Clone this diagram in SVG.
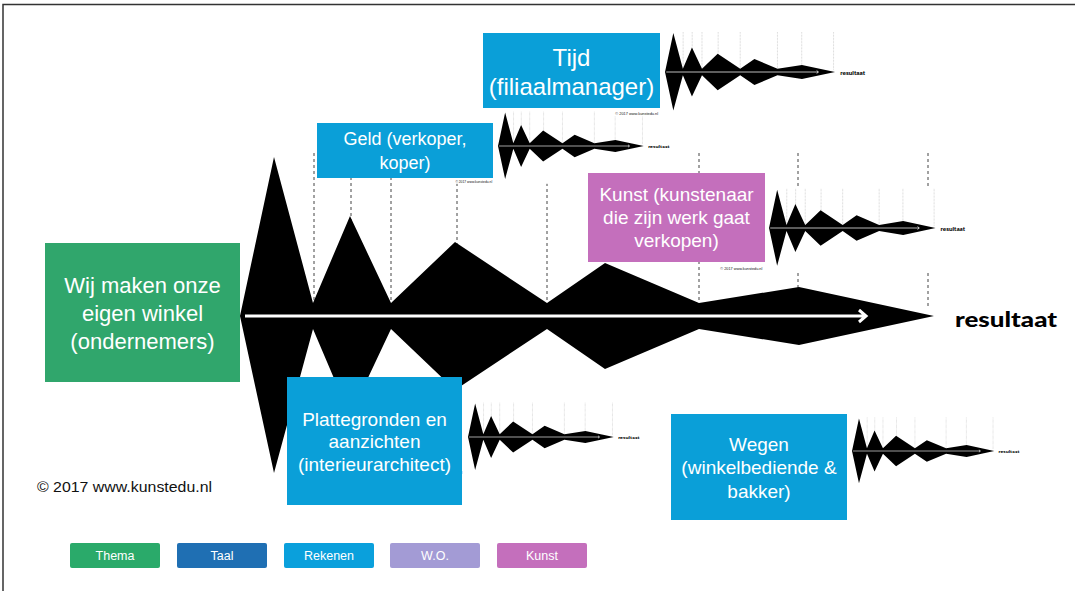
<svg xmlns="http://www.w3.org/2000/svg" xmlns:xlink="http://www.w3.org/1999/xlink" width="1075" height="591" viewBox="0 0 1075 591">
<style>
.box text{font-family:"Liberation Sans",Arial,sans-serif;fill:#fff;text-anchor:middle;}
.dash line{stroke:#444;stroke-width:1;stroke-dasharray:3 3;}
.leg text{font-family:"Liberation Sans",Arial,sans-serif;font-size:12.5px;fill:#fff;text-anchor:middle;}
.blue{fill:#0a9fd8;}
</style>
<defs>
<g id="base">
 <g class="dash">
  <line x1="74" y1="-163" x2="74" y2="0"/>
  <line x1="111" y1="-163" x2="111" y2="0"/>
  <line x1="151" y1="-163" x2="151" y2="0"/>
  <line x1="217" y1="-163" x2="217" y2="0"/>
  <line x1="307" y1="-163" x2="307" y2="0"/>
  <line x1="459" y1="-163" x2="459" y2="0"/>
  <line x1="558" y1="-163" x2="558" y2="0"/>
  <line x1="688" y1="-163" x2="688" y2="-10"/>
 </g>
 <path d="M0,0 L34,-159 L73,-13 L110,-100 L151,-13 L215,-74 L307,-13 L365,-53 L459,-13 L559,-29 L694,0 L559,29 L459,13 L365,53 L307,13 L215,74 L151,13 L110,100 L73,13 L34,157 Z" fill="#000"/>
 <path d="M5,0 H626 M619,-6 L626,0 L619,6" stroke="#fff" stroke-width="3" fill="none"/>
 <text x="715" y="11" font-family="Lato,'Open Sans',sans-serif" font-weight="900" font-size="21" textLength="102" lengthAdjust="spacingAndGlyphs" fill="#000">resultaat</text>
 <text x="-203" y="176" font-family="'Liberation Sans',Arial,sans-serif" font-size="14" textLength="175" lengthAdjust="spacingAndGlyphs" fill="#111">© 2017 www.kunstedu.nl</text>
</g>
<g id="mini">
 <rect x="-212" y="-166" width="1045" height="346" fill="#fff"/>
 <use xlink:href="#base"/>
</g>
</defs>

<rect width="1075" height="591" fill="#fff"/>
<path d="M3,591 V4.5 H1075" stroke="#333" stroke-width="1.5" fill="none"/>

<g id="main-chart">
 <use xlink:href="#base" transform="translate(240,316)"/>
</g>

<g id="mini-charts">
 <use xlink:href="#mini" transform="translate(498,146) scale(0.21)"/>
 <use xlink:href="#mini" transform="translate(665,72) scale(0.245)"/>
 <use xlink:href="#mini" transform="translate(769,228) scale(0.24)"/>
 <use xlink:href="#mini" transform="translate(468,437) scale(0.21)"/>
 <use xlink:href="#mini" transform="translate(852,451) scale(0.205)"/>
</g>

<g id="thema" class="box">
 <rect x="45" y="243" width="195" height="139" fill="#30a66c"/>
 <text font-size="22"><tspan x="142.5" y="292.5">Wij maken onze</tspan><tspan x="142.5" y="320.5">eigen winkel</tspan><tspan x="142.5" y="348.5">(ondernemers)</tspan></text>
</g>
<g id="tijd" class="box">
 <rect class="blue" x="483" y="33" width="177" height="75"/>
 <text font-size="24"><tspan x="571.5" y="65.5">Tijd</tspan><tspan x="571.5" y="94.5">(filiaalmanager)</tspan></text>
</g>
<g id="geld" class="box">
 <rect class="blue" x="317" y="123" width="176" height="55"/>
 <text font-size="18"><tspan x="405" y="145">Geld (verkoper,</tspan><tspan x="405" y="169">koper)</tspan></text>
</g>
<g id="kunst" class="box">
 <rect x="588" y="173" width="177" height="89" fill="#c46fbc"/>
 <text font-size="19"><tspan x="676.5" y="201">Kunst (kunstenaar</tspan><tspan x="676.5" y="224">die zijn werk gaat</tspan><tspan x="676.5" y="247">verkopen)</tspan></text>
</g>
<g id="plattegronden" class="box">
 <rect class="blue" x="287" y="377" width="175" height="128"/>
 <text font-size="19"><tspan x="374.5" y="425.5">Plattegronden en</tspan><tspan x="374.5" y="448">aanzichten</tspan><tspan x="374.5" y="470.5">(interieurarchitect)</tspan></text>
</g>
<g id="wegen" class="box">
 <rect class="blue" x="671" y="414" width="176" height="106"/>
 <text font-size="19"><tspan x="759" y="450.5">Wegen</tspan><tspan x="759" y="474">(winkelbediende &amp;</tspan><tspan x="759" y="497.5">bakker)</tspan></text>
</g>

<g id="legend" class="leg">
 <g id="leg-thema"><rect x="70" y="543" width="90" height="25" rx="2" fill="#2aaa6a"/><text x="115" y="560">Thema</text></g>
 <g id="leg-taal"><rect x="177" y="543" width="90" height="25" rx="2" fill="#1f6fb3"/><text x="222" y="560">Taal</text></g>
 <g id="leg-rekenen"><rect x="284" y="543" width="90" height="25" rx="2" fill="#0aa0dc"/><text x="329" y="560">Rekenen</text></g>
 <g id="leg-wo"><rect x="390" y="543" width="90" height="25" rx="2" fill="#a39bd5"/><text x="435" y="560">W.O.</text></g>
 <g id="leg-kunst"><rect x="497" y="543" width="90" height="25" rx="2" fill="#c46fbc"/><text x="542" y="560">Kunst</text></g>
</g>
</svg>
